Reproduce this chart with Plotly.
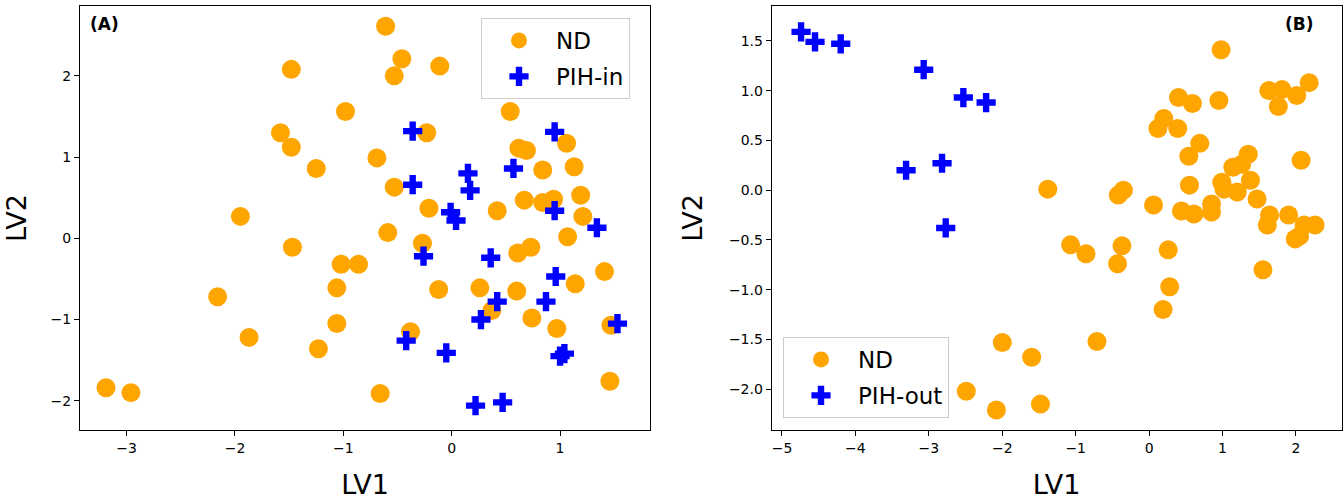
import plotly.graph_objects as go

# Panel A data
a_nd_x = [-0.61, -1.48, -0.46, -0.53, -0.11, -0.98, 0.54, -1.58, -0.23, -1.48, 1.06, -0.69, 0.62, 0.69,
          -1.25, 1.13, 0.84, -0.53, 1.19, 0.67, 0.84, 0.94, -0.21, 0.42, 1.21, -1.95, -0.59, 1.07, -0.27,
          -1.47, 0.61, 0.73, -0.86, -1.02, 1.41, 1.14, -0.12, 0.26, 0.60, -2.16, -1.06, 0.37, 0.74, 0.97,
          1.47, -0.38, -1.87, -1.06, -1.23, -3.19, -2.96, -0.66, 1.46]
a_nd_y = [2.61, 2.08, 2.21, 2.00, 2.12, 1.56, 1.56, 1.30, 1.30, 1.12, 1.17, 0.99, 1.11, 1.08,
          0.86, 0.88, 0.84, 0.63, 0.53, 0.47, 0.44, 0.48, 0.37, 0.34, 0.27, 0.27, 0.07, 0.02, -0.06,
          -0.11, -0.18, -0.11, -0.32, -0.32, -0.41, -0.56, -0.63, -0.61, -0.65, -0.72, -0.61, -0.89, -0.98, -1.11,
          -1.07, -1.15, -1.22, -1.05, -1.36, -1.84, -1.90, -1.91, -1.76]
a_pih_x = [-0.36, 0.95, 0.57, 0.15, 0.17, -0.36, 0.95, -0.01, 0.04, 1.34, -0.26, 0.36, 0.96, 0.42, 0.87,
           0.27, 1.53, -0.42, -0.05, 1.00, 1.04, 0.22, 0.47]
a_pih_y = [1.32, 1.31, 0.86, 0.80, 0.59, 0.66, 0.34, 0.32, 0.22, 0.13, -0.22, -0.24, -0.47, -0.78, -0.78,
           -1.00, -1.05, -1.26, -1.41, -1.45, -1.42, -2.06, -2.02]

# Panel B data
b_nd_x = [0.98, 0.40, 0.59, 0.95, 1.63, 1.81, 1.76, 2.01, 2.18, 0.20, 0.12, 0.39, 0.69, 0.54, 1.35, 1.26,
          1.14, 2.07, 0.99, 1.38, 1.02, 1.20, 0.55, -0.35, -0.42, -1.38, 0.06, 0.44, 0.61, 0.85, 0.85, 1.47,
          1.64, 1.61, 1.90, 2.11, 2.26, 1.99, 2.05, -1.07, -0.86, -0.37, -0.43, 0.26, 0.28, 0.19, -0.71, 1.55,
          -2.00, -1.60, -2.49, -2.08, -1.48]
b_nd_y = [1.41, 0.93, 0.87, 0.90, 1.00, 1.01, 0.84, 0.95, 1.08, 0.72, 0.62, 0.62, 0.47, 0.34, 0.36, 0.26,
          0.23, 0.30, 0.08, 0.10, 0.01, -0.02, 0.05, 0.00, -0.05, 0.01, -0.15, -0.21, -0.24, -0.14, -0.22, -0.09,
          -0.25, -0.35, -0.25, -0.35, -0.35, -0.49, -0.46, -0.55, -0.64, -0.56, -0.74, -0.60, -0.97, -1.20, -1.52, -0.80,
          -1.53, -1.68, -2.02, -2.21, -2.15]
b_pih_x = [-4.74, -4.55, -4.20, -3.07, -2.53, -2.22, -3.31, -2.82, -2.77]
b_pih_y = [1.59, 1.49, 1.47, 1.21, 0.93, 0.88, 0.20, 0.27, -0.38]

ORANGE = "#FFA500"
BLUE = "#0000FF"
CIRCLE_SIZE = 19
CROSS_SIZE = 16

fig = go.Figure()
fig.add_trace(go.Scatter(x=a_nd_x, y=a_nd_y, mode="markers", name="ND",
                         marker=dict(color=ORANGE, size=CIRCLE_SIZE, symbol="circle", line=dict(width=0)),
                         xaxis="x", yaxis="y", legend="legend", legendgroup="a1"))
fig.add_trace(go.Scatter(x=a_pih_x, y=a_pih_y, mode="markers", name="PIH-in",
                         marker=dict(color=BLUE, size=CROSS_SIZE, symbol="cross", line=dict(width=0)),
                         xaxis="x", yaxis="y", legend="legend", legendgroup="a2"))
fig.add_trace(go.Scatter(x=b_nd_x, y=b_nd_y, mode="markers", name="ND",
                         marker=dict(color=ORANGE, size=CIRCLE_SIZE, symbol="circle", line=dict(width=0)),
                         xaxis="x2", yaxis="y2", legend="legend2", legendgroup="b1"))
fig.add_trace(go.Scatter(x=b_pih_x, y=b_pih_y, mode="markers", name="PIH-out",
                         marker=dict(color=BLUE, size=CROSS_SIZE, symbol="cross", line=dict(width=0)),
                         xaxis="x2", yaxis="y2", legend="legend2", legendgroup="b2"))

W, H = 1343, 502
ax_common = dict(showgrid=False, zeroline=False, showline=True, linecolor="black", linewidth=1,
                 mirror=True, ticks="outside", ticklen=5, tickcolor="black", tickwidth=1,
                 tickfont=dict(family="DejaVu Sans", size=14, color="black"), automargin=False)
title_font = dict(family="DejaVu Sans", size=27, color="black")
legend_common = dict(bordercolor="#CCCCCC", borderwidth=1, bgcolor="rgba(255,255,255,0.8)",
                     font=dict(family="DejaVu Sans", size=23, color="black"), itemwidth=64,
                     traceorder="grouped", tracegroupgap=3)

fig.update_layout(
    width=W, height=H,
    margin=dict(l=0, r=0, t=0, b=0),
    paper_bgcolor="white", plot_bgcolor="white",
    xaxis=dict(domain=[80 / W, 650 / W], range=[-3.43, 1.83], tickvals=[-3, -2, -1, 0, 1],
               title=dict(text="LV1", font=title_font, standoff=20), anchor="y", **ax_common),
    yaxis=dict(domain=[1 - 430 / H, 1 - 6 / H], range=[-2.36, 2.86], tickvals=[-2, -1, 0, 1, 2],
               title=dict(text="LV2", font=title_font, standoff=16), anchor="x", **ax_common),
    xaxis2=dict(domain=[771.7 / W, 1341.5 / W], range=[-5.14, 2.62], tickvals=[-5, -4, -3, -2, -1, 0, 1, 2],
                title=dict(text="LV1", font=title_font, standoff=20), anchor="y2", **ax_common),
    yaxis2=dict(domain=[1 - 430 / H, 1 - 6 / H], range=[-2.41, 1.85],
                tickvals=[-2.0, -1.5, -1.0, -0.5, 0.0, 0.5, 1.0, 1.5], tickformat=".1f",
                title=dict(text="LV2", font=title_font, standoff=18), anchor="x2", **ax_common),
    legend=dict(x=481 / W, y=1 - 18 / H, xanchor="left", yanchor="top", **legend_common),
    legend2=dict(x=783 / W, y=1 - 418 / H, xanchor="left", yanchor="bottom", **legend_common),
    annotations=[
        dict(text="<b>(A)</b>", xref="x domain", yref="y domain", x=8 / 570, y=1 - 6 / 424,
             xanchor="left", yanchor="top", showarrow=False,
             font=dict(family="DejaVu Sans", size=17, color="black")),
        dict(text="<b>(B)</b>", xref="x2 domain", yref="y2 domain", x=1 - 26 / 570, y=1 - 6 / 424,
             xanchor="right", yanchor="top", showarrow=False,
             font=dict(family="DejaVu Sans", size=17, color="black")),
    ],
)

fig.write_html("out.html", config={"displayModeBar": False},
               post_script="document.body.style.margin='0';document.body.style.overflow='hidden';")
